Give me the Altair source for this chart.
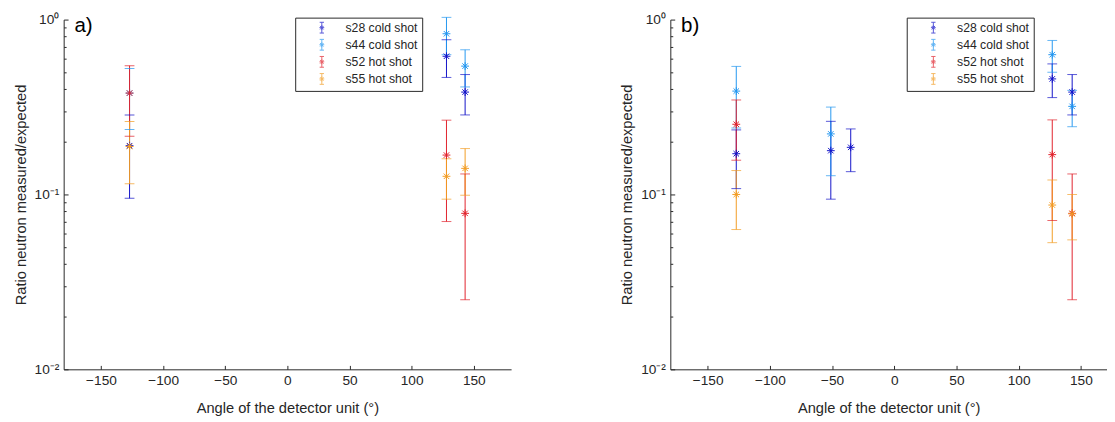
import altair as alt
import pandas as pd

series = ["s28 cold shot", "s44 cold shot", "s52 hot shot", "s55 hot shot"]
colors = ["#1010C8", "#2196F0", "#E0202A", "#F29C22"]

# ---- panel a) ----
a_s28_angle = [-127, 128, 143]
a_s28_value = [0.19, 0.617, 0.385]
a_s28_err = [0.095, 0.15, 0.10]
a_s44_angle = [-127, 128, 143]
a_s44_value = [0.38, 0.83, 0.542]
a_s44_err = [0.145, 0.20, 0.13]
a_s52_angle = [-127, 128, 143]
a_s52_value = [0.38, 0.168, 0.078]
a_s52_err = [0.165, 0.098, 0.053]
a_s55_angle = [-127, 128, 143]
a_s55_value = [0.188, 0.127, 0.141]
a_s55_err = [0.073, 0.033, 0.042]

# ---- panel b) ----
b_s28_angle = [-127, -51, -35, 127, 143]
b_s28_value = [0.171, 0.178, 0.186, 0.458, 0.385]
b_s28_err = [0.063, 0.084, 0.051, 0.10, 0.10]
b_s44_angle = [-127, -51, 127, 143]
b_s44_value = [0.39, 0.222, 0.63, 0.319]
b_s44_err = [0.15, 0.094, 0.13, 0.075]
b_s52_angle = [-127, 127, 143]
b_s52_value = [0.252, 0.169, 0.078]
b_s52_err = [0.095, 0.098, 0.053]
b_s55_angle = [-127, 127, 143]
b_s55_value = [0.10, 0.087, 0.0775]
b_s55_err = [0.037, 0.034, 0.0225]

x_ticks = [-150, -100, -50, 0, 50, 100, 150]
y_ticks = [m * 10 ** e for e in (-2, -1) for m in range(1, 10)] + [1]
y_ticks = [round(v, 4) for v in y_ticks]


def build(parts):
    rows = []
    for name, ang, val, err in parts:
        for a, v, e in zip(ang, val, err):
            rows.append({"series": name, "angle": a, "value": v,
                         "lo": v - e, "hi": v + e})
    return pd.DataFrame(rows)


df_a = build([(series[0], a_s28_angle, a_s28_value, a_s28_err),
              (series[1], a_s44_angle, a_s44_value, a_s44_err),
              (series[2], a_s52_angle, a_s52_value, a_s52_err),
              (series[3], a_s55_angle, a_s55_value, a_s55_err)])
df_b = build([(series[0], b_s28_angle, b_s28_value, b_s28_err),
              (series[1], b_s44_angle, b_s44_value, b_s44_err),
              (series[2], b_s52_angle, b_s52_value, b_s52_err),
              (series[3], b_s55_angle, b_s55_value, b_s55_err)])

FONT = "Liberation Sans"
INK = "#262626"
STAR = "M-1,0L1,0M0,-1L0,1M-0.7,-0.7L0.7,0.7M-0.7,0.7L0.7,-0.7"
ICON = ("M0,-1L0,1M-0.4,-1L0.4,-1M-0.4,1L0.4,1"
        "M-0.45,0L0.45,0M0,-0.45L0,0.45M-0.32,-0.32L0.32,0.32M-0.32,0.32L0.32,-0.32")

H = 358
PX_PER_DEG = 458 / 360.0


def axes():
    x_axis = alt.Axis(values=x_ticks, ticks=False, grid=True, gridColor=INK,
                      gridDash=[0, H - 4, 4, 4000], gridWidth=1, domainColor=INK,
                      labelFont=FONT, labelFontSize=14, labelColor=INK,
                      labelPadding=5, titleFont=FONT, titleFontSize=15,
                      titleColor=INK, titleFontWeight="normal", titlePadding=13,
                      labelFlush=False)
    y_axis = alt.Axis(values=y_ticks, ticks=False, grid=True, gridColor=INK,
                      gridDash={"condition": {"test": "indexof([0.01, 0.1, 1], datum.value) < 0",
                                              "value": [2.5, 3000]},
                                "value": [4.5, 3000]},
                      gridWidth=1, domainColor=INK,
                      labelExpr="datum.value == 1 ? '10\u2070' : datum.value == 0.1 ? '10\u207b\u00b9' : datum.value == 0.01 ? '10\u207b\u00b2' : ''",
                      labelFont=FONT, labelFontSize=14, labelColor=INK,
                      labelPadding=5, titleFont=FONT, titleFontSize=15,
                      titleColor=INK, titleFontWeight="normal", titlePadding=6,
                      labelFlush=False, labelOverlap=False)
    return x_axis, y_axis


def panel(df, tag, legend_x, x_max):
    x_axis, y_axis = axes()
    width = round((x_max + 180) * PX_PER_DEG)
    base = alt.Chart(df)
    xs = alt.Scale(domain=[-180, x_max], nice=False, zero=False)
    ys = alt.Scale(type="log", domain=[0.01, 1], nice=False)
    color = alt.Color("series:N", scale=alt.Scale(domain=series, range=colors),
                      legend=alt.Legend(
                          orient="none", legendX=legend_x, legendY=-2, title=None,
                          symbolType=ICON, symbolSize=121, symbolStrokeWidth=1,
                          symbolFillColor="transparent",
                          labelFont=FONT, labelFontSize=12.5, labelColor=INK,
                          padding=4, strokeColor=INK, fillColor="white",
                          rowPadding=1.5, symbolOffset=17, labelOffset=18))
    x = alt.X("angle:Q", scale=xs, axis=x_axis,
              title="Angle of the detector unit (\u00b0)")

    rules = base.mark_rule(strokeWidth=1).encode(
        x=x,
        y=alt.Y("lo:Q", scale=ys, axis=y_axis,
                title="Ratio neutron measured/expected"),
        y2="hi:Q", color=color)
    cap_lo = base.mark_tick(orient="horizontal", size=10, thickness=1).encode(
        x=x, y=alt.Y("lo:Q", scale=ys), color=color)
    cap_hi = base.mark_tick(orient="horizontal", size=10, thickness=1).encode(
        x=x, y=alt.Y("hi:Q", scale=ys), color=color)
    pts = base.mark_point(shape=STAR, size=64, filled=False, strokeWidth=1,
                          opacity=1).encode(
        x=x, y=alt.Y("value:Q", scale=ys), color=color)
    label = alt.Chart(pd.DataFrame({"t": [tag]})).mark_text(
        font=FONT, fontSize=21, align="left", baseline="top", color="black"
    ).encode(text="t:N", x=alt.value(11), y=alt.value(-4))
    return alt.layer(rules, cap_lo, cap_hi, pts, label).properties(
        width=width, height=H)


chart = alt.hconcat(panel(df_a, "a)", 237, 180), panel(df_b, "b)", 242, 171),
                    spacing=111).resolve_scale(color="independent").resolve_legend(
    color="independent").properties(
    padding={"top": 0, "left": 5, "right": 0, "bottom": 0},
    background="white"
).configure_view(stroke=None)

chart.save("out.html", embed_options={"renderer": "svg", "actions": False})
